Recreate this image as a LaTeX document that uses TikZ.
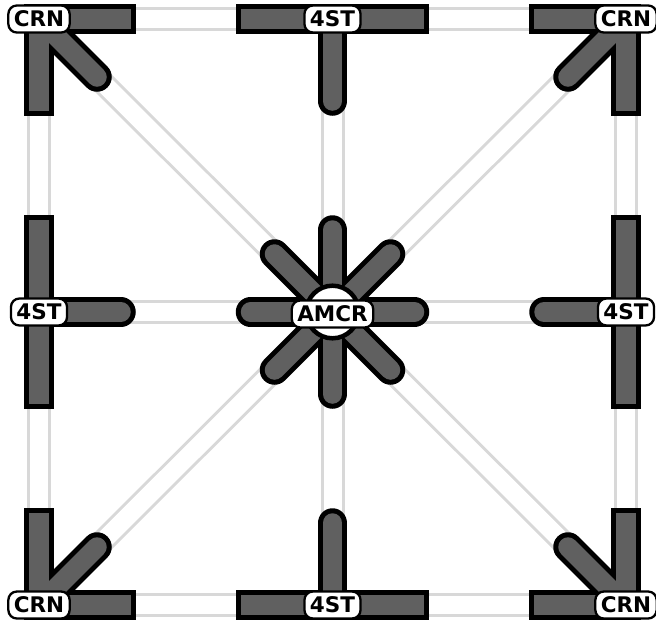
\documentclass[tikz,border=0pt]{standalone}
\usepackage{fontspec}
\newfontfamily\lblfont{DejaVu Sans}
\definecolor{armgray}{RGB}{96,96,96}
\definecolor{pipegray}{RGB}{216,216,216}
\newcommand\myarm[5]{\draw[#1,line cap=#5] (#2) -- ++(#3,#4);}
\newcommand\mybar[4]{\draw[#1,line cap=rect] (#2) ++(-#3,-#4) -- ++(2*#3,2*#4);}
\begin{document}
\begin{tikzpicture}[x=1pt,y=-1pt,
  pipeout/.style={line width=24pt, pipegray},
  pipein/.style={line width=18pt, white},
  armout/.style={line width=29.5pt, black},
  armin/.style={line width=19.5pt, armgray},
  lbl/.style={draw=black, line width=2.3pt, fill=white, rounded corners=8.5pt,
    font=\lblfont\bfseries\fontsize{21.5}{21.5}\selectfont,
    inner xsep=5.5pt, inner ysep=0pt, minimum height=27pt}]
\useasboundingbox (0,0) rectangle (656,619);
\coordinate (TL) at (39,19);
\coordinate (T) at (332.5,19);
\coordinate (TR) at (626,19);
\coordinate (L) at (39,312);
\coordinate (C) at (332.5,312);
\coordinate (R) at (626,312);
\coordinate (BL) at (39,605);
\coordinate (B) at (332.5,605);
\coordinate (BR) at (626,605);
% pipes
\foreach \st in {pipeout,pipein}{
  \draw[\st] (TL) -- (T);
  \draw[\st] (T) -- (TR);
  \draw[\st] (L) -- (C);
  \draw[\st] (C) -- (R);
  \draw[\st] (BL) -- (B);
  \draw[\st] (B) -- (BR);
  \draw[\st] (TL) -- (L);
  \draw[\st] (L) -- (BL);
  \draw[\st] (T) -- (C);
  \draw[\st] (C) -- (B);
  \draw[\st] (TR) -- (R);
  \draw[\st] (R) -- (BR);
  \draw[\st] (C) -- (TL);
  \draw[\st] (C) -- (TR);
  \draw[\st] (C) -- (BL);
  \draw[\st] (C) -- (BR);
}
% corners
\foreach \s in {armout,armin}{
  \myarm{\s}{TL}{58}{58}{round}\myarm{\s}{TL}{0}{82}{rect}\myarm{\s}{TL}{82}{0}{rect}}
\foreach \s in {armout,armin}{
  \myarm{\s}{TR}{-58}{58}{round}\myarm{\s}{TR}{0}{82}{rect}\myarm{\s}{TR}{-82}{0}{rect}}
\foreach \s in {armout,armin}{
  \myarm{\s}{BL}{58}{-58}{round}\myarm{\s}{BL}{0}{-82}{rect}\myarm{\s}{BL}{82}{0}{rect}}
\foreach \s in {armout,armin}{
  \myarm{\s}{BR}{-58}{-58}{round}\myarm{\s}{BR}{0}{-82}{rect}\myarm{\s}{BR}{-82}{0}{rect}}
% sides
\foreach \s in {armout,armin}{\mybar{\s}{T}{82}{0}\myarm{\s}{T}{0}{82}{round}}
\foreach \s in {armout,armin}{\mybar{\s}{B}{82}{0}\myarm{\s}{B}{0}{-82}{round}}
\foreach \s in {armout,armin}{\mybar{\s}{L}{0}{82}\myarm{\s}{L}{82}{0}{round}}
\foreach \s in {armout,armin}{\mybar{\s}{R}{0}{82}\myarm{\s}{R}{-82}{0}{round}}
% center
\foreach \s in {armout,armin}{
  \myarm{\s}{C}{58}{58}{round}\myarm{\s}{C}{-58}{58}{round}
  \myarm{\s}{C}{58}{-58}{round}\myarm{\s}{C}{-58}{-58}{round}
  \myarm{\s}{C}{0}{82}{round}\myarm{\s}{C}{0}{-82}{round}
  \myarm{\s}{C}{82}{0}{round}\myarm{\s}{C}{-82}{0}{round}}
\draw[black, line width=4.5pt, fill=white] (C) circle[radius=26.3pt];
% labels
\node[lbl] (nTL) at (TL) {CRN};
\node[lbl] (nT) at (T) {4ST};
\node[lbl] (nTR) at (TR) {CRN};
\node[lbl] (nL) at (L) {4ST};
\node[lbl] (nC) at ([yshift=-2pt]C) {AMCR};
\node[lbl] (nR) at (R) {4ST};
\node[lbl] (nBL) at (BL) {CRN};
\node[lbl] (nB) at (B) {4ST};
\node[lbl] (nBR) at (BR) {CRN};
\end{tikzpicture}
\end{document}
